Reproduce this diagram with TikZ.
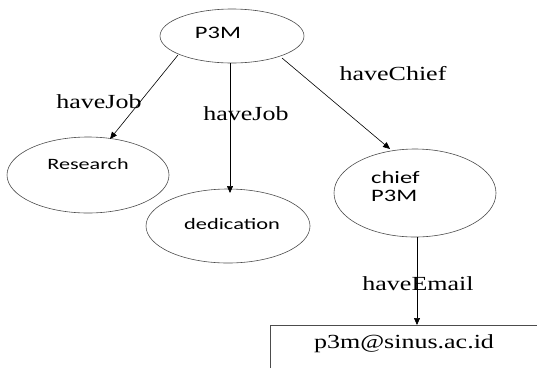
\documentclass[tikz,border=0pt]{standalone}
\usepackage{fontspec}
\setmainfont{Liberation Serif}
\newfontfamily\calib{Carlito}
\usetikzlibrary{arrows.meta}
% text in this drawing is set slightly wide
\newcommand{\widesf}[2]{\scalebox{1.4}[1]{\calib\fontsize{#1}{18}\selectfont #2}}
\newcommand{\widerm}[1]{\scalebox{1.3}[1]{\fontsize{20}{22}\selectfont #1}}
\begin{document}
\begin{tikzpicture}[x=1pt,y=-1pt,
  oval/.style={draw=black!70, line width=0.6pt},
  link/.style={draw, line width=0.6pt, -{Triangle[length=7pt,width=6pt]}},
  txt/.style={inner sep=0pt}]
\useasboundingbox (0,0) rectangle (537,368);
% ellipses
\draw[oval] (232,36) ellipse [x radius=72, y radius=27];
\draw[oval] (88,175) ellipse [x radius=81, y radius=38];
\draw[oval] (228,226) ellipse [x radius=82, y radius=37];
\draw[oval] (415,193) ellipse [x radius=81, y radius=44];
\node[txt] (p3m) at (218,33) {\widesf{17.5}{P3M}};
\node[txt] (res) at (88,164) {\widesf{15.8}{Research}};
\node[txt] (ded) at (232,224) {\widesf{16}{dedication}};
\node[txt, anchor=west] (chief) at (371,189) {\widesf{17.5}{\begin{tabular}{@{}l@{}}chief\\P3M\end{tabular}}};
% email box, open to the right and bottom
\draw[oval] (270,368) -- (270,325) -- (537,325);
\node[txt] (mail) at (404,344) {\widerm{p3m@sinus.ac.id}};
% connector end points
\coordinate (a1) at (178,55);
\coordinate (a2) at (110,139);
\coordinate (b1) at (230,63);
\coordinate (b2) at (230,193);
\coordinate (c1) at (282,58);
\coordinate (c2) at (390,149);
\coordinate (d1) at (417,237);
\coordinate (d2) at (417,325);
\draw[link] (a1) -- (a2);
\draw[link] (b1) -- (b2);
\draw[link] (c1) -- (c2);
\draw[link] (d1) -- (d2);
\node[txt] (l1) at (99,102) {\widerm{haveJob}};
\node[txt] (l2) at (246,114) {\widerm{haveJob}};
\node[txt] (l3) at (393,74) {\widerm{haveChief}};
\node[txt] (l4) at (418,284) {\widerm{haveEmail}};
\end{tikzpicture}
\end{document}
